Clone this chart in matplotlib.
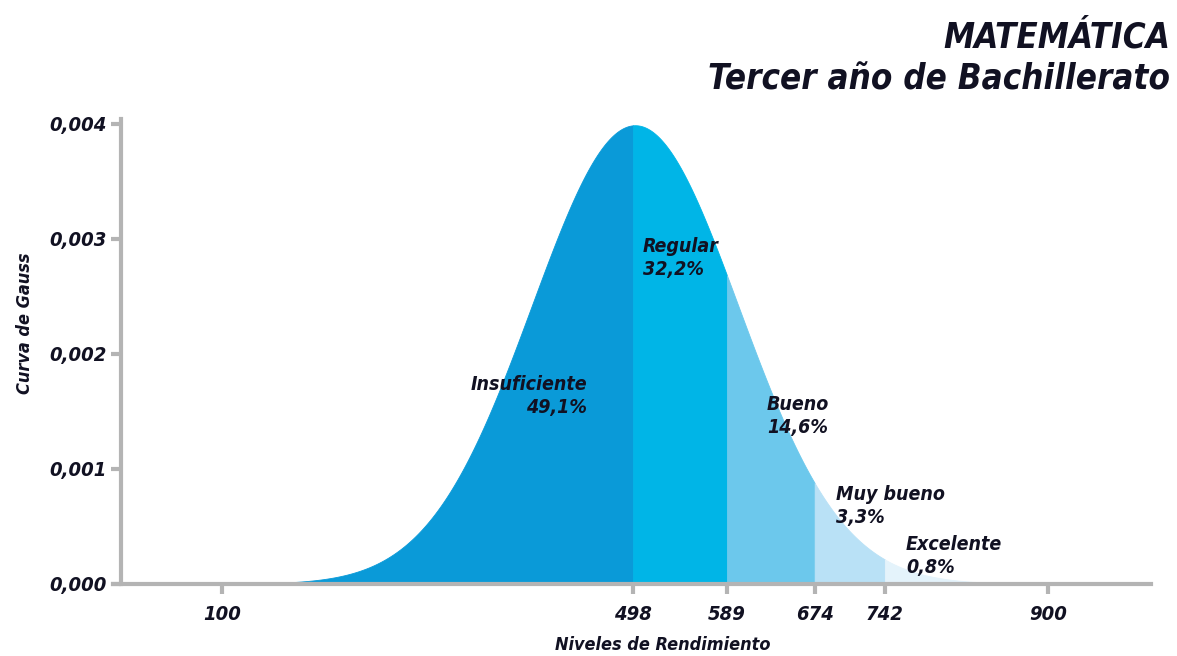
import numpy as np
import matplotlib
matplotlib.use("Agg")
from matplotlib import pyplot as plt

# normal model of the scores (mean, sd)
mean = 500
sd = 100

# level cut points on the score axis
cuts = [170, 498, 589, 674, 742, 900]
levels = ['Insuficiente', 'Regular', 'Bueno', 'Muy bueno', 'Excelente']
pcts = ['49,1%', '32,2%', '14,6%', '3,3%', '0,8%']
colors = ['#0a9ad8', '#00b5e7', '#6cc8ec', '#b9e1f6', '#e4f3fb']

xticks = [100, 498, 589, 674, 742, 900]
yticks = [0.000, 0.001, 0.002, 0.003, 0.004]

fam = ['DejaVu Sans']
txtc = '#111122'
grey = '#b4b4b4'


def gauss(x):
    return np.exp(-0.5*((x - mean)/sd)**2)/(sd*np.sqrt(2*np.pi))


def style(t, size):
    t.set_fontfamily(fam)
    t.set_fontweight('bold')
    t.set_fontstyle('italic')
    t.set_fontstretch('condensed')
    t.set_fontsize(size)
    t.set_color(txtc)


fig = plt.figure(figsize=(11.77, 6.56), dpi=100)
ax = fig.add_axes([0.0957, 0.1098, 0.8824, 0.7082])

for i in range(len(levels)):
    xs = np.linspace(cuts[i], cuts[i+1], 200)
    ax.fill_between(xs, 0, gauss(xs), facecolor=colors[i], edgecolor=colors[i], lw=0.6, zorder=1)

ax.set_xlim(-6, 1000)
ax.set_ylim(0, 0.00404)

for s in ['top', 'right']:
    ax.spines[s].set_visible(False)
ax.spines['left'].set_position(('data', 2))
for s in ['left', 'bottom']:
    ax.spines[s].set_color(grey)
    ax.spines[s].set_linewidth(3)
    ax.spines[s].set_zorder(3)

ax.set_xticks(xticks)
ax.set_xticklabels([str(t) for t in xticks])
ax.set_yticks(yticks)
ax.set_yticklabels([('%.3f' % t).replace('.', ',') for t in yticks])
ax.tick_params(axis='x', color=grey, width=3, length=7, pad=8)
ax.tick_params(axis='y', color=grey, width=3, length=7, pad=3)
for lab in ax.get_xticklabels() + ax.get_yticklabels():
    style(lab, 14.5)

style(ax.set_xlabel('Niveles de Rendimiento', labelpad=9), 13)
ax.xaxis.label.set_x(0.53)
style(ax.set_ylabel('Curva de Gauss', labelpad=11), 13)
ax.yaxis.label.set_y(0.562)

# level labels
lab_x = [587, 643, 767, 836, 906]
lab_y = [396, 258, 416, 506, 556]
aligns = ['right', 'left', 'left', 'left', 'left']
for i in range(len(levels)):
    t = fig.text(lab_x[i]/1177, 1 - lab_y[i]/656, levels[i] + '\n' + pcts[i],
                 ha=aligns[i], va='center', ma=aligns[i], linespacing=1.3)
    style(t, 14)

t = fig.text(1170/1177, 1 - 38/656, 'MATEMÁTICA', ha='right', va='center')
style(t, 25)
t = fig.text(1170/1177, 1 - 80/656, 'Tercer año de Bachillerato', ha='right', va='center')
style(t, 25)

fig.savefig('out.png', dpi=100)
